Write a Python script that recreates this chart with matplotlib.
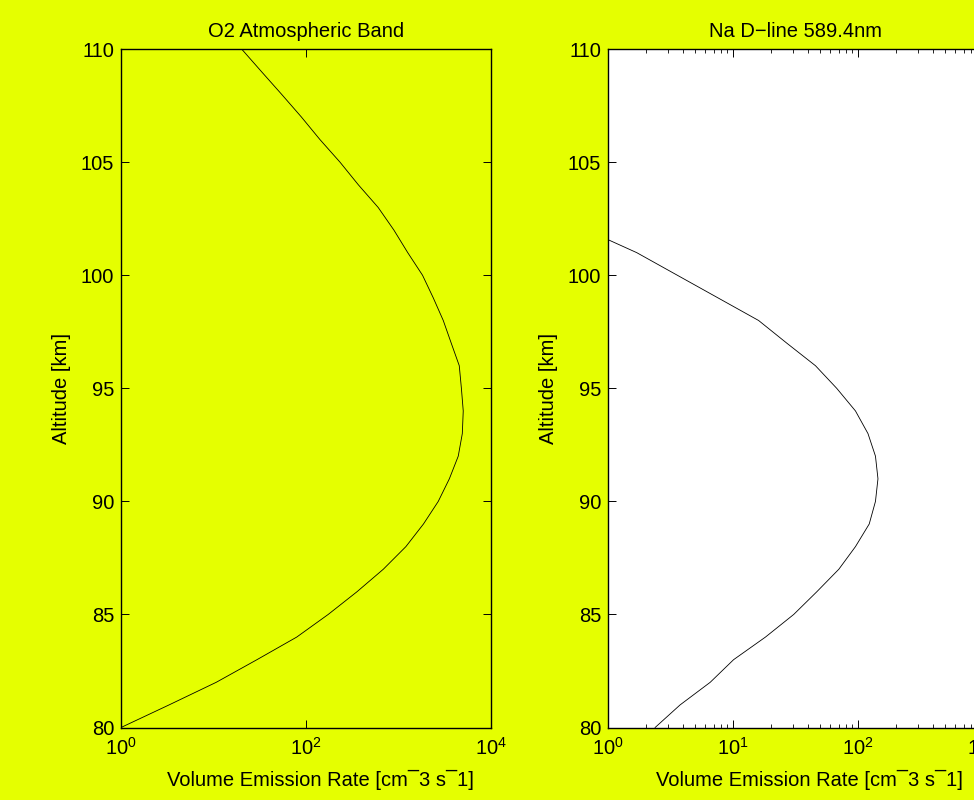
import numpy as np
import matplotlib
matplotlib.use("Agg")
import matplotlib.pyplot as plt

plt.rcParams['font.family'] = ['Liberation Sans', 'DejaVu Sans']
plt.rcParams['mathtext.fontset'] = 'custom'
plt.rcParams['mathtext.rm'] = 'Liberation Sans'
plt.rcParams['mathtext.it'] = 'Liberation Sans:italic'
plt.rcParams['font.size'] = 14.5

fondo = '#e5ff00'

# perfiles (altitud en km, log10 de la tasa de emision)
alt_o2 = [80, 81, 82, 83, 84, 85, 86, 87, 88, 89, 90, 91, 92, 93, 94, 95,
          96, 97, 98, 99, 100, 101, 102, 103, 104, 105, 106, 107, 108, 109, 110]
log_o2 = [0.0, 0.52, 1.03, 1.47, 1.90, 2.24, 2.55, 2.836, 3.08, 3.27, 3.43, 3.55, 3.646, 3.69, 3.70, 3.68,
          3.657, 3.57, 3.484, 3.376, 3.26, 3.10, 2.95, 2.78, 2.566, 2.368, 2.151, 1.95, 1.737, 1.52, 1.305]

alt_na = [80, 81, 82, 83, 84, 85, 86, 87, 88, 89, 90, 91, 92, 93, 94, 95,
          96, 97, 98, 99, 100, 101, 102, 103, 104]
log_na = [0.377, 0.577, 0.818, 1.005, 1.26, 1.486, 1.67, 1.847, 1.98, 2.09, 2.14, 2.16, 2.14, 2.08, 1.98, 1.83,
          1.66, 1.43, 1.205, 0.88, 0.555, 0.23, -0.17, -0.55, -0.95]

titulos = ["O2 Atmospheric Band", "Na D\u2212line 589.4nm"]
xlabel = "Volume Emission Rate [cm\u00af3 s\u00af1]"
ylabel = "Altitude [km]"

fig = plt.figure(figsize=(9.74, 8.0), dpi=100)
fig.patch.set_facecolor(fondo)

ax1 = fig.add_axes([0.1242, 0.0906, 0.3799, 0.848])
ax2 = fig.add_axes([0.6242, 0.0906, 0.3850, 0.848])

ax1.set_facecolor(fondo)
ax2.set_facecolor('white')

ax1.plot(10 ** np.array(log_o2), alt_o2, color='black', linewidth=0.6)
ax2.plot(10 ** np.array(log_na), alt_na, color='black', linewidth=0.6)

ax1.set_xscale('log')
ax2.set_xscale('log')
ax1.set_xlim(1, 1e4)
ax2.set_xlim(1, 1e3)
ax1.set_xticks([1, 1e2, 1e4])
ax1.xaxis.set_minor_locator(matplotlib.ticker.NullLocator())

for ax, titulo in zip([ax1, ax2], titulos):
    ax.set_ylim(80, 110)
    ax.set_yticks(np.arange(80, 111, 5))
    ax.set_title(titulo, fontsize=14.5, pad=9)
    ax.set_xlabel(xlabel, fontsize=14.5)
    ax.set_ylabel(ylabel, fontsize=14.5, labelpad=7)
    ax.tick_params(which='major', direction='in', length=6, width=0.7,
                   top=True, right=True, labelsize=14.5, pad=7)
    ax.tick_params(which='minor', direction='in', length=3, width=0.6,
                   top=True, right=True)
    ax.tick_params(axis='y', pad=5)
    for s in ax.spines.values():
        s.set_linewidth(1.0)

# la etiqueta x en el original queda algo corrida a la derecha
ax1.xaxis.set_label_coords(0.5 + 14 / 370, -0.063)
ax2.xaxis.set_label_coords(0.5 + 14 / 375, -0.063)

fig.savefig("out.png", dpi=100, facecolor=fondo)
